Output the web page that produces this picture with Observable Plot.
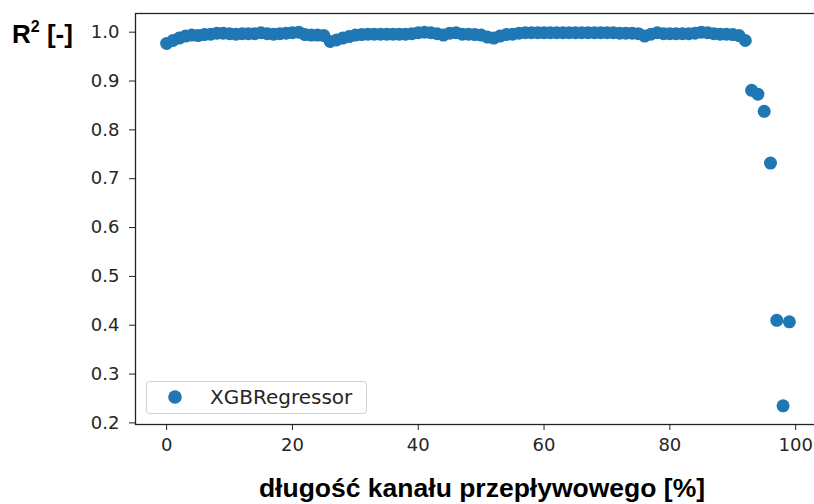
<!DOCTYPE html>
<html>
<head>
<meta charset="utf-8">
<script src="https://cdn.jsdelivr.net/npm/d3@7"></script>
<script src="https://cdn.jsdelivr.net/npm/@observablehq/plot@0.6"></script>
<style>
  html, body { margin: 0; padding: 0; background: #fff; overflow: hidden; }
  #chart { position: relative; width: 814px; height: 504px; overflow: hidden; }
  #chart svg { max-width: none !important; }
</style>
</head>
<body>
<div id="chart"></div>
<script>
// Position along the flow channel [%]
const positions = [
  0,1,2,3,4,5,6,7,8,9,10,11,12,13,14,15,16,17,18,19,
  20,21,22,23,24,25,26,27,28,29,30,31,32,33,34,35,36,37,38,39,
  40,41,42,43,44,45,46,47,48,49,50,51,52,53,54,55,56,57,58,59,
  60,61,62,63,64,65,66,67,68,69,70,71,72,73,74,75,76,77,78,79,
  80,81,82,83,84,85,86,87,88,89,90,91,92,93,94,95,96,97,98,99
];
// R^2 of XGBRegressor
const r2 = [
  0.977,0.983,0.988,0.992,0.994,0.993,0.995,0.996,0.998,0.998,
  0.997,0.996,0.997,0.997,0.997,0.999,0.997,0.996,0.997,0.998,
  0.999,1.000,0.995,0.994,0.994,0.993,0.981,0.984,0.988,0.991,
  0.994,0.995,0.996,0.996,0.996,0.996,0.996,0.996,0.996,0.997,
  0.999,1.000,0.999,0.997,0.994,0.998,0.999,0.996,0.996,0.995,
  0.994,0.990,0.988,0.992,0.995,0.996,0.998,0.999,0.999,0.999,
  0.999,0.999,0.999,0.999,0.999,0.999,0.999,0.999,0.999,0.999,
  0.999,0.999,0.998,0.998,0.998,0.997,0.992,0.996,0.999,0.997,
  0.997,0.997,0.997,0.997,0.998,1.000,0.999,0.997,0.996,0.996,
  0.995,0.993,0.983,0.881,0.873,0.838,0.732,0.410,0.235,0.407
];
const seriesName = "XGBRegressor";
const xTicks = [0, 20, 40, 60, 80, 100];
const yTicks = [0.2, 0.3, 0.4, 0.5, 0.6, 0.7, 0.8, 0.9, 1.0];
const xLabel = "długość kanału przepływowego [%]";
const yLabel = "R";

const data = positions.map((p, i) => ({x: p, y: r2[i]}));

const color = "#1f77b4";
const tickFont = "DejaVu Sans, sans-serif";

const svg = Plot.plot({
  width: 822,
  height: 504,
  marginLeft: 135,
  marginRight: 2,
  marginTop: 13,
  marginBottom: 80,
  style: {fontFamily: tickFont, fontSize: "18px", color: "#262626", background: "#fff", maxWidth: "none"},
  x: {domain: [-4.95, 103.95], ticks: xTicks},
  y: {domain: [0.19675, 1.03825], ticks: yTicks},
  marks: [
    Plot.dot(data, {x: "x", y: "y", r: 6.5, fill: color, stroke: "none"}),
    Plot.frame({stroke: "#222", strokeWidth: 1.3}),
    Plot.axisX({ticks: xTicks, tickSize: 6, tickPadding: 8, label: null, fontSize: 18, tickFormat: d3.format("d"), stroke: "#222"}),
    Plot.axisY({ticks: yTicks, tickSize: 6, tickPadding: 10, label: null, fontSize: 18, tickFormat: d3.format(".1f"), stroke: "#222"})
  ]
});

const s = d3.select(svg);
// y-axis title
const yt = s.append("text")
  .attr("x", 12).attr("y", 43).attr("text-anchor", "start")
  .attr("font-family", "Liberation Sans, Arial, sans-serif")
  .attr("font-weight", "bold").attr("font-size", 26).attr("fill", "#000");
yt.append("tspan").text(yLabel);
yt.append("tspan").attr("font-size", 16).attr("dy", -11).text("2");
yt.append("tspan").attr("dy", 11).text(" [-]");

// x-axis title
s.append("text")
  .attr("x", 482).attr("y", 497).attr("text-anchor", "middle")
  .attr("font-family", "Liberation Sans, Arial, sans-serif")
  .attr("font-weight", "bold").attr("font-size", 26.5).attr("fill", "#000")
  .text(xLabel);

// legend
const lg = s.append("g");
lg.append("rect").attr("x", 146.5).attr("y", 381.5).attr("width", 220).attr("height", 32)
  .attr("rx", 3).attr("fill", "#fff").attr("fill-opacity", 0.8)
  .attr("stroke", "#d0d0d0").attr("stroke-width", 1);
lg.append("circle").attr("cx", 175).attr("cy", 397).attr("r", 6.8).attr("fill", color);
lg.append("text").attr("x", 210).attr("y", 397).attr("dy", "0.36em").attr("text-anchor", "start")
  .attr("font-family", tickFont).attr("font-size", 20).attr("fill", "#262626")
  .text(seriesName);

document.getElementById("chart").appendChild(svg);
</script>
</body>
</html>
